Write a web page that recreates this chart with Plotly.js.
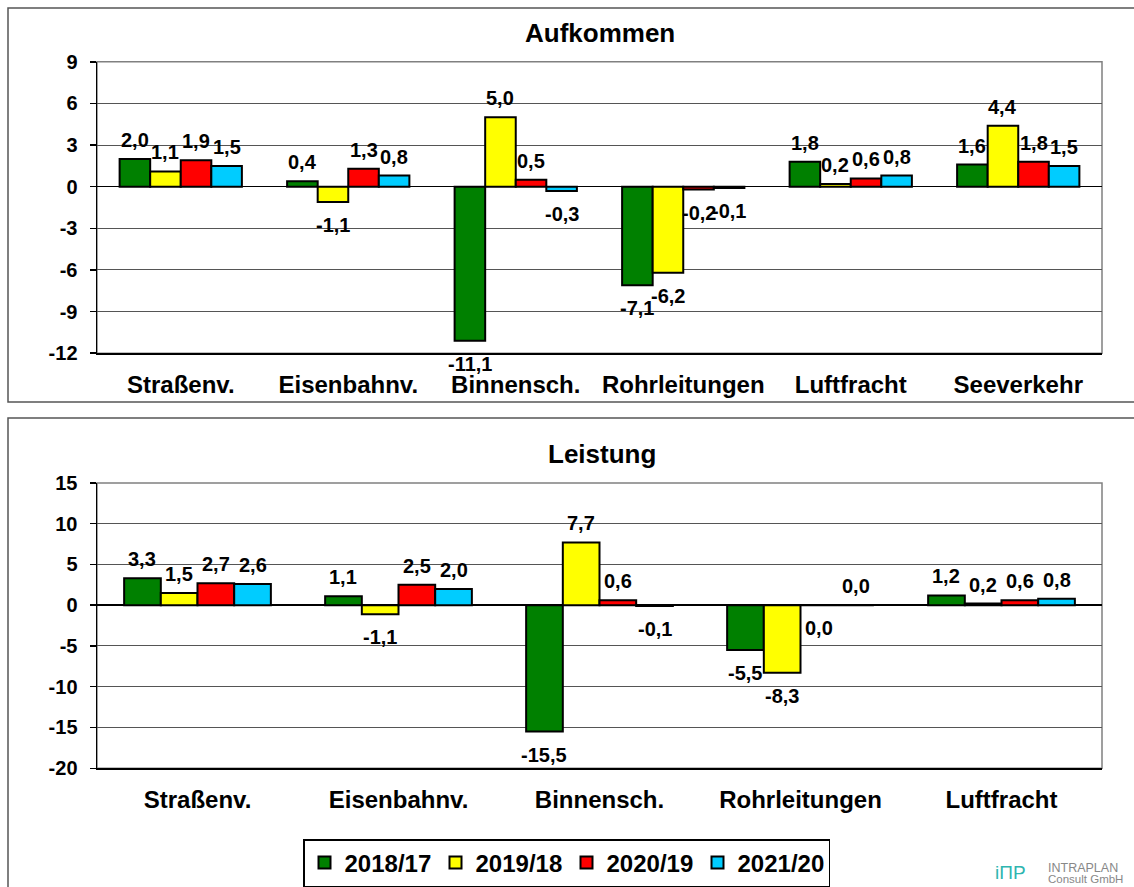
<!DOCTYPE html>
<html>
<head>
<meta charset="utf-8">
<script src="https://cdn.plot.ly/plotly-3.0.1.min.js"></script>
<style>html,body{margin:0;padding:0;background:#fff;}#chart{width:1134px;height:887px;}</style>
</head>
<body>
<div id="chart"></div>
<script>
// ---- data ----
const seriesNames = ["2018/17", "2019/18", "2020/19", "2021/20"];
const seriesColors = ["#008000", "#ffff00", "#ff0000", "#00ccff"];

const aufkommenCategories = ["Straßenv.", "Eisenbahnv.", "Binnensch.", "Rohrleitungen", "Luftfracht", "Seeverkehr"];
const aufkommen2018 = [2.0, 0.4, -11.1, -7.1, 1.8, 1.6];
const aufkommen2019 = [1.1, -1.1, 5.0, -6.2, 0.2, 4.4];
const aufkommen2020 = [1.9, 1.3, 0.5, -0.2, 0.6, 1.8];
const aufkommen2021 = [1.5, 0.8, -0.3, -0.1, 0.8, 1.5];

const leistungCategories = ["Straßenv.", "Eisenbahnv.", "Binnensch.", "Rohrleitungen", "Luftfracht"];
const leistung2018 = [3.3, 1.1, -15.5, -5.5, 1.2];
const leistung2019 = [1.5, -1.1, 7.7, -8.3, 0.2];
const leistung2020 = [2.7, 2.5, 0.6, -0.0, 0.6];   // shown as "0,0" below the axis
const leistung2021 = [2.6, 2.0, -0.1, 0.0, 0.8];

const aufkommenTicks = [-12, -9, -6, -3, 0, 3, 6, 9];
const leistungTicks = [-20, -15, -10, -5, 0, 5, 10, 15];

// ---- layout constants ----
const W = 1134, H = 887;
const PLOT_L = 97, PLOT_R = 1102;
const BARGAP = 0.27;
const FONT = "Liberation Sans, Arial, Helvetica, sans-serif";
const px = v => v / W;
const py = v => (H - v) / H;

function fmt(v) { return v.toFixed(1).replace(".", ",").replace("-0,0", "0,0"); }
function isNeg(v) { return v < 0 || Object.is(v, -0); }

function makeTraces(cats, seriesArrays, xa, ya, showLegend) {
  return seriesArrays.map((vals, i) => ({
    type: "bar",
    x: cats,
    y: vals,
    name: seriesNames[i],
    legendgroup: seriesNames[i],
    showlegend: showLegend,
    xaxis: xa, yaxis: ya,
    marker: { color: seriesColors[i], line: { color: "#000", width: 2 } },
    textposition: "none",
    hoverinfo: "x+y+name"
  }));
}

// value labels, anchored at each bar's value on the axes, offset sideways to the bar's slot in its group
function makeLabels(cats, seriesArrays, xa, ya) {
  const catW = (PLOT_R - PLOT_L) / cats.length;
  const barW = catW * (1 - BARGAP) / seriesArrays.length;
  const out = [];
  seriesArrays.forEach((vals, i) => {
    const shiftX = (i - (seriesArrays.length - 1) / 2) * barW;
    vals.forEach((v, j) => {
      const neg = isNeg(v);
      out.push({
        xref: xa, yref: ya, x: cats[j], y: v,
        text: fmt(v), showarrow: false,
        xanchor: "center", yanchor: neg ? "top" : "bottom",
        xshift: shiftX, yshift: neg ? -10 : 6,
        font: { family: FONT, size: 20, color: "#000", weight: "bold" }
      });
    });
  });
  return out;
}

const aufSeries = [aufkommen2018, aufkommen2019, aufkommen2020, aufkommen2021];
const leiSeries = [leistung2018, leistung2019, leistung2020, leistung2021];

const traces = [
  ...makeTraces(aufkommenCategories, aufSeries, "x", "y", false),
  ...makeTraces(leistungCategories, leiSeries, "x2", "y2", true)
];

const xCommon = {
  type: "category",
  showgrid: false,
  showline: true, linecolor: "#000", linewidth: 1.5,
  ticks: "",
  tickfont: { family: FONT, size: 24, color: "#000", weight: "bold" },
  ticklabelstandoff: 9,
  fixedrange: true
};
const yCommon = {
  showgrid: true, gridcolor: "#555", gridwidth: 1,
  zeroline: true, zerolinecolor: "#000", zerolinewidth: 1.5,
  showline: true, linecolor: "#000", linewidth: 1.5,
  ticks: "outside", ticklen: 6, tickcolor: "#000", tickwidth: 1.5,
  tickfont: { family: FONT, size: 20, color: "#000", weight: "bold" },
  ticklabelstandoff: 8,
  tickmode: "array",
  fixedrange: true
};

const layout = {
  width: W, height: H,
  margin: { l: 0, r: 0, t: 0, b: 0 },
  paper_bgcolor: "#fff", plot_bgcolor: "#fff",
  separators: ",.",
  barmode: "group", bargap: BARGAP, bargroupgap: 0,
  font: { family: FONT, color: "#000" },
  xaxis: Object.assign({}, xCommon, { domain: [px(PLOT_L), px(PLOT_R)], anchor: "y" }),
  yaxis: Object.assign({}, yCommon, {
    domain: [py(354), py(62)], anchor: "x",
    range: [aufkommenTicks[0], aufkommenTicks[aufkommenTicks.length - 1]],
    tickvals: aufkommenTicks, ticktext: aufkommenTicks.map(String)
  }),
  xaxis2: Object.assign({}, xCommon, { domain: [px(PLOT_L), px(PLOT_R)], anchor: "y2" }),
  yaxis2: Object.assign({}, yCommon, {
    domain: [py(770), py(484)], anchor: "x2",
    range: [leistungTicks[0], leistungTicks[leistungTicks.length - 1]],
    tickvals: leistungTicks, ticktext: leistungTicks.map(String)
  }),
  showlegend: true,
  legend: {
    orientation: "h",
    x: px(303), xanchor: "left",
    y: py(841), yanchor: "top",
    bordercolor: "#000", borderwidth: 1.5,
    bgcolor: "#fff",
    font: { family: FONT, size: 24, color: "#000", weight: "bold" },
    entrywidth: 86, entrywidthmode: "pixels",
    traceorder: "normal"
  },
  shapes: [
    { type: "rect", xref: "paper", yref: "paper", x0: px(8), x1: 1.05, y0: py(403), y1: py(8),
      line: { color: "#555", width: 1.5 }, layer: "below" },
    { type: "rect", xref: "paper", yref: "paper", x0: px(8), x1: 1.05, y0: -0.05, y1: py(419),
      line: { color: "#555", width: 1.5 }, layer: "below" },
    { type: "rect", xref: "x domain", yref: "y domain", x0: 0, x1: 1, y0: 0, y1: 1,
      line: { color: "#808080", width: 1.5 }, layer: "below" },
    { type: "rect", xref: "x2 domain", yref: "y2 domain", x0: 0, x1: 1, y0: 0, y1: 1,
      line: { color: "#808080", width: 1.5 }, layer: "below" }
  ],
  annotations: [
    { text: "Aufkommen", xref: "paper", yref: "paper", x: px(600), y: py(33), showarrow: false,
      xanchor: "center", yanchor: "middle", font: { family: FONT, size: 26, color: "#000", weight: "bold" } },
    { text: "Leistung", xref: "paper", yref: "paper", x: px(602), y: py(455), showarrow: false,
      xanchor: "center", yanchor: "middle", font: { family: FONT, size: 26, color: "#000", weight: "bold" } },
    { text: "iΠP", xref: "paper", yref: "paper", x: px(993), y: py(874), showarrow: false,
      xanchor: "left", yanchor: "middle", font: { family: FONT, size: 19, color: "#2fb5b0" } },
    { text: "INTRAPLAN", xref: "paper", yref: "paper", x: px(1046), y: py(870), showarrow: false,
      xanchor: "left", yanchor: "middle", font: { family: FONT, size: 12.5, color: "#888" } },
    { text: "Consult GmbH", xref: "paper", yref: "paper", x: px(1046), y: py(881), showarrow: false,
      xanchor: "left", yanchor: "middle", font: { family: FONT, size: 11.5, color: "#888" } },
    ...makeLabels(aufkommenCategories, aufSeries, "x", "y"),
    ...makeLabels(leistungCategories, leiSeries, "x2", "y2")
  ]
};

Plotly.newPlot("chart", traces, layout, { displayModeBar: false, staticPlot: true });
</script>
</body>
</html>
